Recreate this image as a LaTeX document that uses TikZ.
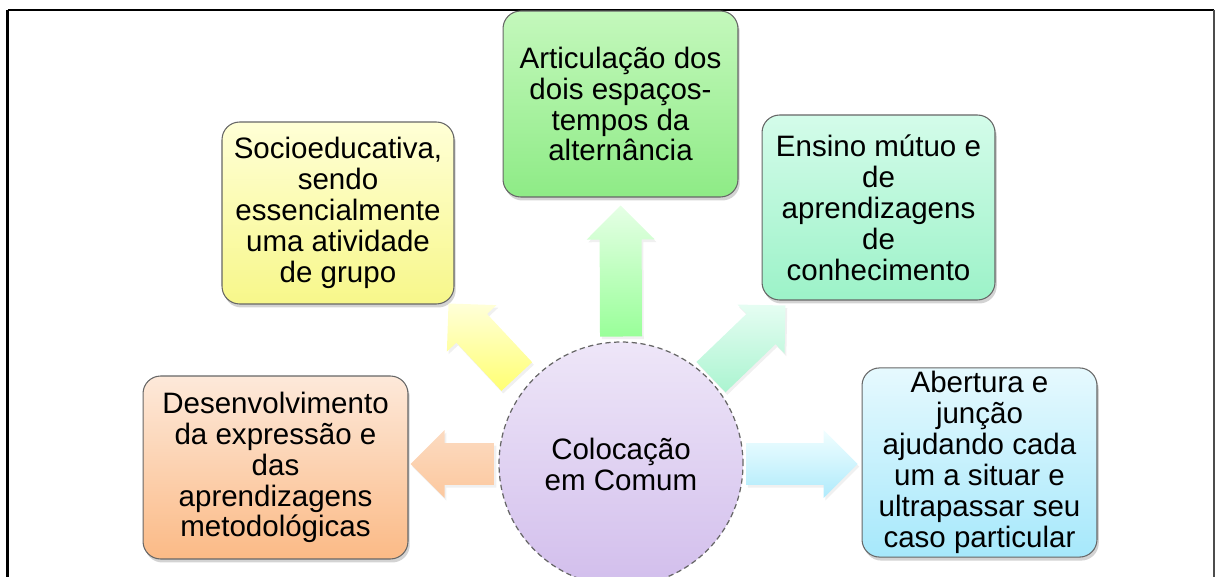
\documentclass[tikz,border=0pt]{standalone}
\usepackage{fontspec}
\setmainfont{Liberation Sans}
\usetikzlibrary{calc,shadows}

\definecolor{ylwtop}{HTML}{FFFFD6}
\definecolor{ylwbot}{HTML}{F7F78A}
\definecolor{grntop}{HTML}{C4F8BC}
\definecolor{grnbot}{HTML}{8EEB86}
\definecolor{mnttop}{HTML}{D4FCEA}
\definecolor{mntbot}{HTML}{9CF2C8}
\definecolor{orgtop}{HTML}{FDE9DA}
\definecolor{orgbot}{HTML}{FBBA86}
\definecolor{blutop}{HTML}{E6F9FE}
\definecolor{blubot}{HTML}{A6E8FB}
\definecolor{lavtop}{HTML}{EEE6F8}
\definecolor{lavbot}{HTML}{D2BEEC}

% thick block arrow from #1 to #2, shaded #3 -> #4
\newcommand{\blockarrow}[4]{%
  \coordinate (bh) at ($(#2)!0.68cm!(#1)$);
  \shade[top color=#3, bottom color=#4, arrowshadow]
    ($(#1)!0.42cm!90:(#2)$) -- ($(bh)!0.42cm!-90:(#1)$) -- ($(bh)!0.68cm!-90:(#1)$)
    -- (#2) -- ($(bh)!0.68cm!90:(#1)$) -- ($(bh)!0.42cm!90:(#1)$)
    -- ($(#1)!0.42cm!-90:(#2)$) -- cycle;
}

\begin{document}
\begin{tikzpicture}[x=0.02cm, y=0.02cm,
	font=\fontsize{16.8}{17.6}\selectfont,
	box/.style={rounded corners=10pt, draw=black!60, line width=0.6pt, align=center,
		inner sep=2pt, drop shadow={shadow xshift=1pt, shadow yshift=-2pt, opacity=0.35}},
	arrowshadow/.style={drop shadow={shadow xshift=1pt, shadow yshift=-1.5pt, opacity=0.12}}]
	\clip (0,0) rectangle (1216,-577);
	% frame
	\draw[line width=1.3pt] (7.5,-10) -- (1214,-10);
	\draw[line width=1.3pt] (7.5,-10) -- (7.5,-620);
	\draw[line width=0.6pt, black!70] (1214,-10) -- (1214,-620);
	
	% centre
	\node[circle, draw=black!60, densely dashed, line width=0.7pt, top color=lavtop, bottom color=lavbot,
		minimum size=4.88cm, align=center] (cc) at (621,-464) {Colocação\\em Comum};
	
	% boxes
	\node[box, top color=grntop, bottom color=grnbot, minimum width=4.7cm, minimum height=3.72cm]
		(art) at (620.5,-104) {Articulação dos\\dois espaços-\\tempos da\\alternância};
	\node[box, top color=ylwtop, bottom color=ylwbot, minimum width=4.64cm, minimum height=3.64cm]
		(soc) at (338,-213) {Socioeducativa,\\sendo\\essencialmente\\uma atividade\\de grupo};
	\node[box, top color=mnttop, bottom color=mntbot, minimum width=4.66cm, minimum height=3.7cm]
		(ens) at (878.5,-207.5) {Ensino mútuo e\\de\\aprendizagens\\de\\conhecimento};
	\node[box, top color=orgtop, bottom color=orgbot, minimum width=5.3cm, minimum height=3.66cm]
		(des) at (275.5,-467.5) {Desenvolvimento\\da expressão e\\das\\aprendizagens\\metodológicas};
	\node[box, top color=blutop, bottom color=blubot, minimum width=4.7cm, minimum height=3.7cm]
		(abe) at (979.5,-462.5) {Abertura e\\junção\\ajudando cada\\um a situar e\\ultrapassar seu\\caso particular};
	
	% arrows
	\coordinate (up0) at ($(cc.center)!1.04!(cc.90)$);
	\coordinate (up1) at ($(art.south)+(0,-8)$);
	\coordinate (ul0) at ($(cc.center)!1.11!(cc.140)$);
	\coordinate (ul1) at ($(soc.south east)+(-6,1)$);
	\coordinate (ur0) at ($(cc.center)!1.02!(cc.44)$);
	\coordinate (ur1) at ($(ens.south west)+(24,-5)$);
	\coordinate (lf0) at ($(cc.center)!1.03!(cc.180)$);
	\coordinate (lf1) at ($(des.east |- lf0)+(2,0)$);
	\coordinate (rt0) at ($(cc.center)!1.02!(cc.0)$);
	\coordinate (rt1) at ($(abe.west |- rt0)+(-4,0)$);
	
	\blockarrow{up0}{up1}{green!10!white}{green!40!white}
	\blockarrow{ul0}{ul1}{yellow!15!white}{yellow!55!white}
	\blockarrow{ur0}{ur1}{mnttop!60!white}{mntbot!85!white}
	\blockarrow{lf0}{lf1}{orgtop!70!orgbot}{orgbot!80!white}
	\blockarrow{rt0}{rt1}{blutop!80!cyan!20}{blubot!90!white}
\end{tikzpicture}
\end{document}
